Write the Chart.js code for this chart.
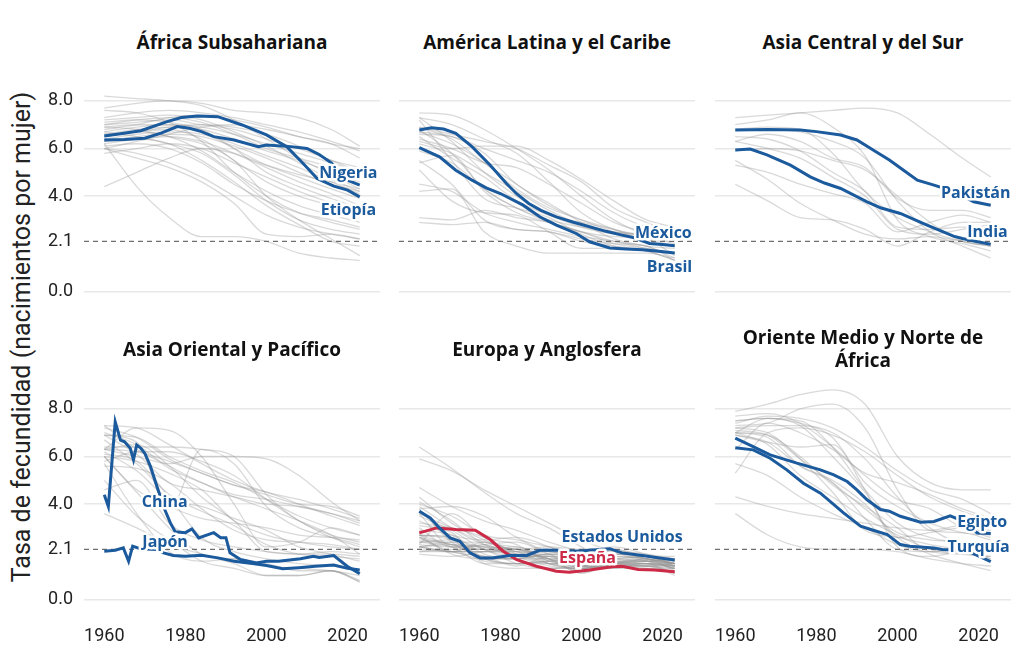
<!DOCTYPE html>
<html>
<head>
<meta charset="utf-8">
<script src="https://cdn.jsdelivr.net/npm/chart.js@4.4.1/dist/chart.umd.min.js"></script>
<style>
  body { margin: 0; background: #fff; width: 1024px; height: 652px; position: relative; overflow: hidden; font-family: Roboto, "Noto Sans", sans-serif; }
  canvas { position: absolute; }
  .title { position: absolute; width: 296px; height: 50px; display: flex; align-items: center; justify-content: center; text-align: center; font-family: "Open Sans", Roboto, sans-serif; font-weight: 700; font-size: 19px; line-height: 23px; color: #111; }
  .ytitle { position: absolute; left: -278px; top: 322px; width: 600px; height: 30px; line-height: 30px; text-align: center; font-size: 25px; color: #222; transform: rotate(-90deg); }
</style>
</head>
<body>
<div class="ytitle">Tasa de fecundidad (nacimientos por mujer)</div>
<script>
// ---- data (TFR, births per woman) ----
const YEARS = [1960, 1968, 1976, 1984, 1992, 2000, 2008, 2016, 2023];
const Y_TICKS = [0, 2.1, 4, 6, 8];
const X_TICKS = [1960, 1980, 2000, 2020];
const REPLACEMENT = 2.1;

const TITLES = ['África Subsahariana', 'América Latina y el Caribe', 'Asia Central y del Sur',
  'Asia Oriental y Pacífico', 'Europa y Anglosfera', 'Oriente Medio y Norte de África'];

const AFRICA_GRAY = [
  [8.2, 8.1, 8.0, 7.8, 7.2, 6.4, 5.6, 4.9, 4.3],
  [7.7, 7.9, 8.0, 7.9, 7.6, 7.5, 7.3, 6.8, 6.1],
  [7.3, 7.5, 7.6, 7.5, 7.3, 7.0, 6.7, 6.3, 5.9],
  [6.8, 7.0, 7.3, 7.4, 7.2, 6.9, 6.5, 6.2, 6.0],
  [6.0, 6.3, 6.6, 6.9, 7.0, 6.8, 6.5, 6.2, 5.6],
  [7.0, 7.2, 7.3, 7.1, 6.6, 6.0, 5.6, 5.2, 4.8],
  [6.6, 6.8, 6.9, 6.8, 6.4, 5.9, 5.5, 5.0, 4.6],
  [6.4, 6.6, 6.7, 6.6, 6.2, 5.7, 5.2, 4.6, 4.1],
  [6.9, 7.0, 7.0, 6.7, 6.0, 5.3, 4.8, 4.3, 3.9],
  [6.2, 6.4, 6.5, 6.3, 5.8, 5.2, 4.6, 4.1, 3.6],
  [7.1, 7.2, 7.1, 6.8, 6.0, 5.0, 4.4, 3.9, 3.5],
  [6.5, 6.7, 6.8, 6.4, 5.5, 4.6, 4.0, 3.6, 3.3],
  [5.8, 6.0, 6.2, 6.0, 5.4, 4.8, 4.2, 3.7, 3.2],
  [6.6, 6.7, 6.5, 5.9, 5.0, 4.2, 3.6, 3.2, 2.9],
  [6.1, 6.2, 6.0, 5.4, 4.5, 3.8, 3.3, 3.0, 2.7],
  [7.6, 7.5, 7.1, 6.3, 5.0, 4.0, 3.3, 2.9, 2.6],
  [6.0, 5.8, 5.4, 4.8, 4.0, 3.2, 2.7, 2.4, 2.2],
  [6.7, 6.5, 6.2, 5.8, 4.9, 3.8, 3.0, 2.6, 2.4],
  [4.4, 5.0, 5.6, 6.0, 5.8, 5.3, 4.9, 4.6, 4.3],
  [6.2, 4.4, 3.1, 2.3, 2.3, 2.1, 1.6, 1.4, 1.3],
  [6.0, 5.6, 5.2, 4.6, 3.7, 2.4, 2.3, 2.4, 2.2],
  [6.9, 6.8, 6.5, 6.2, 5.5, 4.0, 3.0, 2.2, 1.5],
  [6.3, 6.4, 6.2, 5.5, 4.6, 3.6, 2.8, 2.1, 1.9],
  [7.0, 7.1, 7.2, 7.0, 6.8, 6.4, 6.0, 5.5, 5.0],
  [6.5, 6.7, 6.9, 7.0, 6.9, 6.6, 6.1, 5.5, 5.2],
  [6.7, 6.9, 7.0, 6.9, 6.6, 6.2, 5.8, 5.4, 5.0],
  [6.3, 6.5, 6.6, 6.5, 6.1, 5.6, 5.0, 4.5, 4.2],
  [7.2, 7.3, 7.4, 7.2, 6.7, 6.1, 5.4, 4.7, 4.2]
];
const LATAM_GRAY = [
  [3.1, 3.0, 3.4, 3.1, 2.9, 2.5, 2.3, 2.2, 1.5],
  [2.9, 2.8, 2.9, 2.6, 2.5, 2.2, 2.0, 1.9, 1.3],
  [4.2, 4.3, 2.5, 1.9, 1.6, 1.6, 1.6, 1.6, 1.4],
  [5.5, 4.5, 3.0, 2.6, 2.5, 2.1, 1.9, 1.7, 1.3],
  [6.9, 6.6, 6.3, 6.0, 5.3, 4.6, 3.5, 2.9, 2.4],
  [6.3, 6.0, 6.1, 6.1, 5.5, 4.7, 3.8, 3.0, 2.7],
  [6.6, 6.5, 6.0, 5.5, 5.0, 4.2, 3.3, 2.7, 2.5],
  [7.5, 7.4, 6.8, 6.0, 5.1, 4.0, 3.0, 2.4, 2.3],
  [7.3, 7.0, 6.4, 5.8, 4.6, 3.3, 2.6, 2.3, 2.2],
  [6.4, 6.0, 5.4, 5.2, 4.5, 3.7, 2.9, 2.5, 2.4],
  [6.9, 6.4, 5.4, 4.5, 3.6, 3.0, 2.5, 2.2, 1.9],
  [6.8, 5.8, 4.3, 3.5, 2.9, 2.5, 2.0, 1.8, 1.6],
  [6.7, 6.2, 5.4, 4.3, 3.5, 3.0, 2.6, 2.1, 1.9],
  [6.5, 5.6, 4.8, 3.8, 3.2, 2.7, 2.4, 2.2, 2.1],
  [7.3, 6.3, 5.0, 4.0, 3.2, 2.9, 2.6, 2.3, 2.2],
  [6.7, 6.5, 5.8, 4.5, 3.7, 2.9, 2.2, 1.9, 1.8],
  [7.2, 5.5, 3.9, 3.5, 3.1, 2.4, 1.9, 1.7, 1.3],
  [5.9, 5.4, 4.3, 3.5, 3.0, 2.7, 2.5, 2.4, 2.3],
  [5.4, 5.7, 4.2, 3.3, 2.9, 2.5, 2.1, 1.9, 1.4],
  [5.1, 3.8, 3.3, 3.2, 2.5, 1.8, 1.8, 1.7, 1.6],
  [4.5, 4.2, 3.3, 2.9, 2.6, 2.3, 2.1, 1.8, 1.6],
  [6.2, 5.8, 5.0, 4.2, 3.4, 2.8, 2.5, 2.3, 2.0]
];
const SOUTH_ASIA_GRAY = [
  [7.3, 7.4, 7.5, 7.6, 7.7, 7.5, 6.6, 5.6, 4.8],
  [6.8, 6.9, 6.8, 5.8, 4.2, 3.1, 2.5, 2.1, 1.9],
  [5.9, 6.0, 5.9, 5.5, 5.1, 4.0, 2.9, 2.1, 1.9],
  [6.8, 6.8, 6.7, 6.3, 5.6, 3.8, 2.5, 1.9, 1.4],
  [7.0, 7.2, 7.5, 6.9, 5.7, 3.0, 2.3, 2.0, 1.7],
  [5.5, 4.7, 3.7, 3.0, 2.4, 2.2, 2.3, 2.1, 1.9],
  [6.3, 6.0, 5.6, 4.8, 4.0, 2.6, 2.4, 2.6, 2.8],
  [4.5, 3.8, 3.1, 3.0, 2.6, 1.9, 2.5, 2.9, 2.9],
  [5.3, 5.0, 4.5, 4.1, 3.7, 2.5, 2.9, 3.2, 2.9],
  [6.3, 6.6, 6.3, 5.6, 5.2, 3.9, 3.4, 3.4, 3.1],
  [6.5, 6.4, 5.9, 5.0, 4.2, 2.7, 2.6, 2.7, 2.5]
];
const EAST_ASIA_GRAY = [
  [6.0, 4.5, 3.0, 1.9, 1.7, 1.5, 1.2, 1.2, 0.72],
  [5.0, 3.5, 2.5, 1.6, 1.3, 1.0, 1.0, 1.2, 0.75],
  [5.7, 3.6, 2.0, 1.6, 1.7, 1.4, 1.3, 1.2, 1.0],
  [6.1, 5.8, 4.3, 2.6, 2.0, 1.7, 1.5, 1.4, 1.2],
  [6.3, 6.5, 5.6, 4.3, 3.3, 2.0, 1.9, 2.0, 1.9],
  [5.6, 5.5, 4.9, 3.8, 2.9, 2.5, 2.4, 2.3, 2.1],
  [7.0, 6.5, 5.5, 4.9, 4.3, 3.8, 3.3, 2.7, 1.9],
  [6.2, 5.4, 4.2, 3.9, 3.4, 2.9, 2.2, 1.9, 1.6],
  [6.3, 7.2, 7.1, 6.0, 4.0, 2.2, 2.4, 3.0, 2.7],
  [6.9, 6.6, 3.8, 6.3, 5.7, 3.9, 3.0, 2.6, 2.3],
  [6.4, 6.4, 6.4, 6.3, 6.0, 4.4, 3.3, 2.7, 2.4],
  [6.0, 5.8, 5.3, 4.6, 3.3, 2.7, 2.4, 2.2, 2.1],
  [4.6, 5.0, 3.2, 2.5, 2.2, 2.0, 1.9, 1.9, 1.8],
  [6.3, 6.2, 5.8, 5.3, 4.8, 4.5, 4.0, 3.5, 3.1],
  [6.3, 6.0, 5.7, 6.0, 6.0, 5.9, 5.2, 4.1, 3.3],
  [7.2, 6.8, 5.9, 5.3, 4.8, 4.4, 4.0, 3.9, 3.5],
  [6.0, 4.6, 3.9, 3.4, 3.2, 3.0, 2.7, 2.6, 2.5],
  [6.9, 6.1, 4.9, 4.6, 4.3, 4.0, 3.9, 3.6, 3.2],
  [6.7, 5.7, 4.4, 3.7, 3.1, 2.3, 1.9, 1.8, 1.7],
  [7.3, 6.3, 5.6, 4.9, 4.4, 4.2, 3.9, 3.6, 3.3],
  [6.9, 6.8, 6.0, 5.4, 4.9, 4.2, 3.5, 3.0, 2.7],
  [3.6, 3.0, 2.3, 1.9, 1.5, 1.0, 1.0, 1.2, 0.8],
  [7.3, 7.2, 6.5, 5.7, 5.0, 4.5, 4.2, 3.8, 3.4],
  [5.8, 6.2, 6.2, 5.8, 5.2, 4.2, 3.3, 2.6, 2.2]
];
const EUROPE_GRAY = [
  [3.8, 3.9, 3.5, 2.6, 2.0, 1.9, 2.1, 1.8, 1.5],
  [4.3, 3.2, 2.5, 2.1, 2.2, 2.1, 2.1, 1.7, 1.6],
  [3.2, 3.0, 2.6, 1.9, 1.5, 1.6, 1.4, 1.4, 1.4],
  [2.4, 2.5, 2.1, 1.5, 1.3, 1.3, 1.4, 1.3, 1.2],
  [2.7, 2.6, 1.8, 1.8, 1.7, 1.9, 2.0, 1.9, 1.7],
  [2.4, 2.4, 1.5, 1.3, 1.3, 1.4, 1.4, 1.6, 1.4],
  [2.7, 2.6, 1.7, 1.8, 1.8, 1.6, 1.9, 1.8, 1.5],
  [3.8, 2.4, 1.8, 1.7, 1.7, 1.5, 1.6, 1.6, 1.3],
  [3.5, 2.9, 2.1, 1.8, 1.9, 1.8, 2.0, 1.8, 1.6],
  [4.1, 3.3, 2.3, 1.9, 2.1, 2.0, 2.2, 1.9, 1.6],
  [3.1, 2.8, 1.6, 1.5, 1.6, 1.7, 1.8, 1.7, 1.5],
  [2.5, 2.3, 1.7, 1.5, 1.6, 1.7, 1.8, 1.7, 1.5],
  [2.2, 2.0, 1.7, 1.7, 2.1, 1.5, 1.9, 1.8, 1.5],
  [2.9, 2.7, 1.9, 1.7, 1.9, 1.9, 2.0, 1.7, 1.4],
  [2.6, 2.0, 1.8, 1.4, 1.8, 1.8, 1.9, 1.8, 1.5],
  [2.7, 1.9, 1.7, 1.7, 1.9, 1.7, 1.9, 1.6, 1.3],
  [2.7, 2.5, 1.7, 1.5, 1.5, 1.4, 1.4, 1.5, 1.3],
  [2.4, 2.2, 1.5, 1.5, 1.6, 1.5, 1.5, 1.5, 1.4],
  [2.2, 2.4, 2.4, 1.8, 1.4, 1.3, 1.5, 1.4, 1.3],
  [3.0, 2.2, 2.3, 2.4, 1.9, 1.4, 1.4, 1.4, 1.1],
  [2.3, 3.6, 2.6, 2.3, 1.5, 1.3, 1.5, 1.6, 1.7],
  [2.0, 2.0, 2.3, 1.8, 1.8, 1.3, 1.3, 1.5, 1.5],
  [2.1, 2.0, 2.4, 2.0, 1.7, 1.1, 1.5, 1.7, 1.5],
  [2.3, 2.2, 2.2, 2.0, 1.5, 1.3, 1.6, 1.6, 1.7],
  [3.6, 2.2, 2.1, 2.0, 2.0, 1.7, 1.4, 1.4, 1.1],
  [2.2, 2.3, 2.2, 1.7, 1.3, 1.3, 1.5, 1.6, 1.5],
  [2.2, 2.0, 2.0, 1.9, 1.5, 1.4, 1.5, 1.4, 1.5],
  [2.6, 2.3, 2.2, 2.1, 1.9, 1.4, 1.5, 1.7, 1.2],
  [1.9, 1.8, 2.0, 2.1, 1.7, 1.2, 1.4, 1.7, 1.4],
  [2.0, 2.1, 2.1, 2.2, 1.6, 1.4, 1.7, 1.6, 1.3],
  [2.2, 2.0, 2.0, 2.0, 1.7, 1.1, 1.5, 1.5, 1.0],
  [2.6, 2.0, 2.0, 2.1, 1.6, 1.2, 1.5, 1.8, 1.4],
  [2.7, 2.3, 2.1, 2.1, 1.8, 1.3, 1.4, 1.5, 1.1],
  [3.3, 2.7, 2.5, 2.6, 2.2, 1.6, 1.7, 1.8, 1.8],
  [3.9, 3.0, 2.3, 2.1, 1.7, 1.4, 1.3, 1.3, 1.3],
  [4.0, 3.5, 2.7, 2.5, 2.2, 1.9, 1.6, 1.5, 1.4],
  [3.6, 3.0, 2.4, 2.2, 2.0, 1.8, 1.7, 1.8, 1.7],
  [6.4, 5.5, 4.5, 3.6, 3.0, 2.2, 1.6, 1.5, 1.4],
  [5.9, 5.4, 4.6, 3.9, 3.2, 2.5, 2.0, 1.7, 1.5],
  [4.7, 3.9, 3.3, 2.9, 2.4, 2.0, 1.7, 1.6, 1.5]
];
const MENA_GRAY = [
  [7.9, 8.2, 8.6, 8.8, 8.2, 6.0, 4.9, 4.6, 4.6],
  [7.2, 7.3, 7.3, 7.0, 5.9, 4.3, 3.0, 2.4, 2.4],
  [7.3, 7.4, 8.0, 8.2, 7.2, 4.6, 2.9, 2.8, 2.5],
  [7.0, 7.6, 7.5, 6.4, 4.6, 3.2, 2.6, 2.4, 2.4],
  [7.5, 7.6, 7.3, 6.0, 4.5, 2.6, 2.8, 3.0, 2.8],
  [7.1, 6.9, 5.9, 4.9, 3.8, 2.8, 2.5, 2.4, 2.2],
  [7.0, 6.8, 5.6, 4.9, 3.4, 2.1, 2.0, 2.2, 1.7],
  [6.9, 6.6, 6.4, 6.5, 4.6, 2.2, 1.8, 2.0, 1.7],
  [6.3, 7.4, 7.0, 6.3, 5.3, 4.9, 4.4, 3.8, 3.4],
  [7.5, 7.6, 7.4, 6.8, 4.9, 3.9, 3.2, 2.8, 2.7],
  [7.7, 7.8, 7.4, 6.4, 5.2, 4.2, 3.8, 3.0, 2.6],
  [7.2, 7.0, 5.9, 4.5, 2.9, 2.6, 2.3, 2.1, 2.0],
  [6.9, 6.6, 5.6, 5.0, 4.0, 2.6, 1.9, 1.5, 1.2],
  [7.0, 6.9, 6.0, 4.8, 3.9, 3.0, 2.0, 1.9, 1.8],
  [7.0, 6.5, 5.2, 4.3, 3.4, 2.7, 2.1, 1.9, 1.8],
  [5.7, 5.2, 4.3, 3.6, 3.0, 2.3, 2.0, 2.1, 2.0],
  [4.3, 3.9, 3.6, 3.4, 3.2, 3.0, 2.9, 3.1, 2.9],
  [3.6, 2.7, 2.2, 2.1, 2.1, 2.0, 1.7, 1.5, 1.4],
  [5.3, 7.0, 7.2, 6.9, 6.2, 5.2, 4.3, 3.7, 3.3],
  [7.4, 7.7, 7.6, 7.2, 6.4, 5.4, 4.6, 4.2, 3.6]
];

// highlighted countries: [year, TFR]
const NIGERIA = [[1960,6.36],[1965,6.38],[1970,6.43],[1974,6.65],[1978,6.92],[1981,6.85],[1984,6.71],[1987,6.5],[1992,6.36],[1998,6.08],[2000,6.15],[2006,6.08],[2010,6.0],[2013,5.75],[2016,5.4],[2020,4.67],[2023,4.46]];
const ETIOPIA = [[1960,6.53],[1964,6.62],[1969,6.75],[1975.5,7.13],[1979,7.3],[1983,7.37],[1988,7.34],[1994,6.99],[2000,6.57],[2005,6.08],[2009,5.38],[2012.5,4.74],[2016.6,4.42],[2020,4.25],[2023,3.97]];
const MEXICO = [[1960,6.78],[1963,6.87],[1966,6.82],[1969,6.64],[1973,6.08],[1977.5,5.3],[1981.5,4.53],[1984,4.1],[1987,3.69],[1990,3.4],[1993.8,3.13],[1998,2.9],[2002,2.71],[2006,2.52],[2010,2.36],[2013,2.25],[2016.8,2.01],[2020,1.97],[2023,1.91]];
const BRASIL = [[1960,6.04],[1965,5.65],[1969,5.09],[1973,4.67],[1976.5,4.35],[1980,4.11],[1985.6,3.62],[1989.7,3.13],[1993.8,2.78],[1998.7,2.43],[2002,2.08],[2007,1.82],[2011,1.78],[2015,1.75],[2019,1.68],[2023,1.61]];
const PAKISTAN = [[1960,6.78],[1968,6.8],[1976,6.78],[1980,6.71],[1986,6.57],[1990,6.36],[1994,5.94],[1998,5.52],[2001.5,5.09],[2004.9,4.67],[2009,4.46],[2012,4.3],[2015,4.1],[2018.8,3.76],[2023,3.62]];
const INDIA = [[1960,5.94],[1963.7,5.98],[1967.8,5.73],[1973.6,5.3],[1978.5,4.81],[1982,4.55],[1986,4.32],[1992.5,3.76],[1996,3.5],[2000.7,3.27],[2007.3,2.78],[2013.8,2.32],[2016,2.22],[2019.7,2.08],[2023,1.98]];
const CHINA = [[1960,4.39],[1961,3.9],[1962.7,7.46],[1964,6.69],[1965,6.62],[1966.4,6.35],[1967.2,5.86],[1968,6.49],[1969,6.35],[1970,6.14],[1971.4,5.58],[1973,4.74],[1974.6,3.9],[1976.3,3.21],[1977.5,2.84],[1980,2.8],[1981.6,2.96],[1983.3,2.58],[1987,2.8],[1988.7,2.59],[1990,2.59],[1991,1.95],[1993.6,1.67],[1997.5,1.53],[2000,1.6],[2003,1.6],[2008.4,1.7],[2011.6,1.81],[2013,1.76],[2016.6,1.84],[2019.9,1.39],[2023,1.07]];
const JAPON = [[1960,2.02],[1962.7,2.06],[1964.7,2.16],[1966,1.6],[1967,2.23],[1969,2.12],[1973,2.09],[1974.6,1.95],[1977,1.84],[1980,1.81],[1984,1.85],[1988,1.74],[1992,1.6],[1997,1.49],[2000,1.42],[2004,1.28],[2008,1.33],[2012,1.39],[2016.6,1.44],[2020,1.3],[2023,1.23]];
const EEUU = [[1960,3.7],[1962.7,3.42],[1965,3.0],[1967.6,2.58],[1970,2.44],[1972.5,1.95],[1975,1.74],[1978,1.74],[1982.4,1.84],[1986.5,1.84],[1989.7,2.06],[1994,2.06],[1998.7,2.02],[2002,2.06],[2007,2.12],[2010,1.95],[2015,1.84],[2020,1.72],[2023,1.65]];
const ESPANA = [[1960,2.79],[1964.3,3.0],[1969,2.93],[1973.8,2.9],[1977.5,2.51],[1980.7,2.02],[1984,1.67],[1988.9,1.39],[1993.8,1.18],[1997,1.14],[2002,1.23],[2008,1.38],[2010,1.39],[2014,1.25],[2018,1.23],[2023,1.16]];
const EGIPTO = [[1960,6.77],[1964.4,6.42],[1968.6,6.07],[1975.2,5.72],[1981,5.44],[1984.3,5.23],[1987.6,4.95],[1990,4.6],[1992.5,4.18],[1995.8,3.77],[1998,3.7],[2000.7,3.49],[2005.7,3.24],[2009,3.27],[2013,3.51],[2016,3.3],[2019.7,2.79],[2023,2.76]];
const TURQUIA = [[1960,6.37],[1964.4,6.28],[1968.6,5.93],[1972.7,5.44],[1976.8,4.88],[1981,4.46],[1986.7,3.63],[1990.9,3.07],[1994,2.9],[1997.5,2.72],[2000.7,2.3],[2003,2.23],[2009,2.16],[2011,2.09],[2016,2.05],[2019,1.9],[2023,1.58]];

// ---- styling / layout ----
const BLUE = '#1b5a9c';
const RED = '#cc2a47';
const GRAY = 'rgba(150,150,150,0.36)';
const AREA_LEFT = [84, 399, 715];
const AREA_TOP = [70, 378];
const AREA_W = 296, AREA_H = 232, Y_AXIS_W = 60, X_AXIS_H = 40, PAD = 8;
const TITLE_Y = [42, 349];

const PANELS = [
  { gray: AFRICA_GRAY, lines: [[NIGERIA, BLUE], [ETIOPIA, BLUE]],
    labels: [{ text: 'Nigeria', year: 2020.2, value: 4.97, color: BLUE }, { text: 'Etiopía', year: 2020.2, value: 3.41, color: BLUE }] },
  { gray: LATAM_GRAY, lines: [[MEXICO, BLUE], [BRASIL, BLUE]],
    labels: [{ text: 'México', year: 2020.2, value: 2.44, color: BLUE }, { text: 'Brasil', year: 2021.7, value: 1.02, color: BLUE }] },
  { gray: SOUTH_ASIA_GRAY, lines: [[PAKISTAN, BLUE], [INDIA, BLUE]],
    labels: [{ text: 'Pakistán', year: 2019.3, value: 4.12, color: BLUE }, { text: 'India', year: 2022.2, value: 2.46, color: BLUE }] },
  { gray: EAST_ASIA_GRAY, lines: [[CHINA, BLUE], [JAPON, BLUE]],
    labels: [{ text: 'China', year: 1974.9, value: 4.07, color: BLUE }, { text: 'Japón', year: 1975, value: 2.4, color: BLUE }] },
  { gray: EUROPE_GRAY, lines: [[EEUU, BLUE], [ESPANA, RED]],
    labels: [{ text: 'Estados Unidos', year: 2010, value: 2.58, color: BLUE }, { text: 'España', year: 2001.5, value: 1.70, color: RED }] },
  { gray: MENA_GRAY, lines: [[EGIPTO, BLUE], [TURQUIA, BLUE]],
    labels: [{ text: 'Egipto', year: 2020.9, value: 3.24, color: BLUE }, { text: 'Turquía', year: 2020, value: 2.16, color: BLUE }] }
];

const countryLabels = {
  id: 'countryLabels',
  afterDatasetsDraw(chart, args, opts) {
    const { ctx, scales: { x, y } } = chart;
    ctx.save();
    ctx.font = '700 16px "Open Sans", Roboto, sans-serif';
    ctx.textAlign = 'center';
    ctx.textBaseline = 'middle';
    ctx.lineJoin = 'round';
    (opts.items || []).forEach(l => {
      const px = x.getPixelForValue(l.year), py = y.getPixelForValue(l.value);
      ctx.lineWidth = 5;
      ctx.strokeStyle = '#fff';
      ctx.strokeText(l.text, px, py);
      ctx.fillStyle = l.color;
      ctx.fillText(l.text, px, py);
    });
    ctx.restore();
  }
};

PANELS.forEach((p, i) => {
  const col = i % 3, row = Math.floor(i / 3);

  const t = document.createElement('div');
  t.className = 'title';
  t.textContent = TITLES[i];
  t.style.left = AREA_LEFT[col] + 'px';
  t.style.top = (TITLE_Y[row] - 25) + 'px';
  document.body.appendChild(t);

  const cv = document.createElement('canvas');
  const w = Y_AXIS_W + AREA_W + PAD, h = PAD + AREA_H + X_AXIS_H;
  cv.width = w; cv.height = h;
  cv.style.width = w + 'px'; cv.style.height = h + 'px';
  cv.style.left = (AREA_LEFT[col] - Y_AXIS_W) + 'px';
  cv.style.top = (AREA_TOP[row] - PAD) + 'px';
  document.body.appendChild(cv);

  const datasets = [];
  p.lines.forEach(([pts, color]) => datasets.push({
    data: pts.map(([x, y]) => ({ x, y })), borderColor: color, borderWidth: 3,
    pointRadius: 0, tension: 0, order: 0
  }));
  datasets.push({
    data: [{ x: 1955, y: REPLACEMENT }, { x: 2028, y: REPLACEMENT }],
    borderColor: '#6f6f6f', borderWidth: 1.2, borderDash: [5, 4], pointRadius: 0, order: 1
  });
  p.gray.forEach(row => datasets.push({
    data: YEARS.map((x, k) => ({ x, y: row[k] })), borderColor: GRAY, borderWidth: 1.3,
    pointRadius: 0, cubicInterpolationMode: 'monotone', order: 2
  }));

  new Chart(cv, {
    type: 'line',
    data: { datasets },
    plugins: [countryLabels],
    options: {
      responsive: false,
      animation: false,
      events: [],
      layout: { padding: { top: PAD, right: PAD, left: 0, bottom: 0 } },
      plugins: {
        legend: { display: false },
        tooltip: { enabled: false },
        countryLabels: { items: p.labels }
      },
      scales: {
        x: {
          type: 'linear', min: 1955, max: 2028,
          afterBuildTicks: s => { s.ticks = X_TICKS.map(v => ({ value: v })); },
          afterFit: s => { s.height = X_AXIS_H; s.paddingLeft = 0; s.paddingRight = 0; },
          grid: { display: false },
          border: { display: false },
          ticks: {
            display: row === 1, padding: 8, color: '#222', autoSkip: false, maxRotation: 0,
            font: { family: 'Roboto', size: 18 }, callback: v => String(v)
          }
        },
        y: {
          type: 'linear', min: -0.45, max: 9.3,
          afterBuildTicks: s => { s.ticks = Y_TICKS.map(v => ({ value: v })); },
          afterFit: s => { s.width = Y_AXIS_W; s.paddingTop = 0; s.paddingBottom = 0; },
          grid: {
            drawTicks: false, lineWidth: 1.5,
            color: c => (c.tick && c.tick.value === REPLACEMENT) ? 'rgba(0,0,0,0)' : '#e8e8e8'
          },
          border: { display: false },
          ticks: {
            display: col === 0, padding: 11, color: '#222', autoSkip: false,
            font: { family: 'Roboto', size: 18 }, callback: v => Number(v).toFixed(1)
          }
        }
      }
    }
  });
});
</script>
</body>
</html>
